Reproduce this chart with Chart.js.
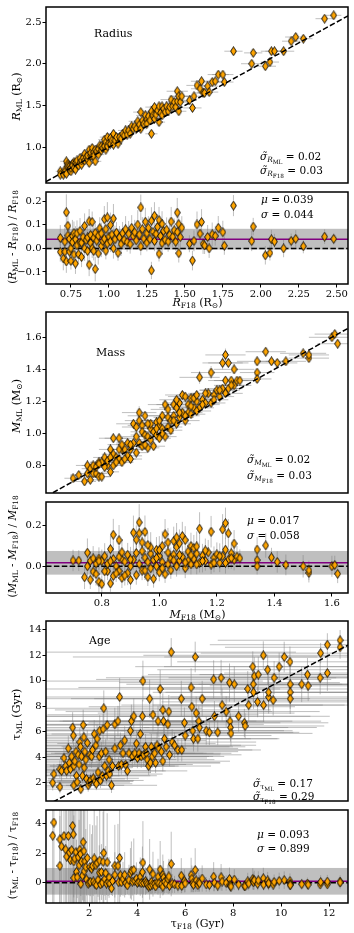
<!DOCTYPE html>
<html>
<head>
<meta charset="utf-8">
<script src="https://cdn.jsdelivr.net/npm/chart.js@4.4.1/dist/chart.umd.min.js"></script>
<style>
  html, body { margin: 0; padding: 0; background: #fff; }
  #wrap { position: relative; width: 354px; height: 933px; overflow: hidden; }
  canvas { position: absolute; left: 0; }
</style>
</head>
<body>
<div id="wrap">
  <canvas id="c1"></canvas>
  <canvas id="c2"></canvas>
  <canvas id="c3"></canvas>
  <canvas id="c4"></canvas>
  <canvas id="c5"></canvas>
  <canvas id="c6"></canvas>
</div>
<script>
// ---------------- Radius ----------------
const radiusF18 = [
  0.68, 0.68, 0.70, 0.71, 0.71, 0.72, 0.72, 0.73, 0.73, 0.74,
  0.74, 0.75, 0.75, 0.76, 0.76, 0.77, 0.77, 0.78, 0.78, 0.79,
  0.79, 0.80, 0.81, 0.81, 0.82, 0.82, 0.83, 0.84, 0.84, 0.85,
  0.86, 0.86, 0.87, 0.87, 0.88, 0.88, 0.89, 0.89, 0.90, 0.90,
  0.91, 0.91, 0.92, 0.93, 0.93, 0.94, 0.95, 0.95, 0.96, 0.97,
  0.97, 0.98, 0.98, 0.99, 0.99, 1.00, 1.01, 1.01, 1.02, 1.03,
  1.03, 1.04, 1.05, 1.06, 1.07, 1.08, 1.09, 1.10, 1.11, 1.12,
  1.13, 1.14, 1.15, 1.16, 1.17, 1.18, 1.19, 1.20, 1.21, 1.21,
  1.22, 1.23, 1.24, 1.25, 1.25, 1.26, 1.27, 1.28, 1.28, 1.29,
  1.30, 1.30, 1.31, 1.32, 1.33, 1.33, 1.34, 1.35, 1.35, 1.36,
  1.37, 1.38, 1.39, 1.40, 1.41, 1.42, 1.43, 1.44, 1.45, 1.45,
  1.46, 1.46, 1.47, 1.48, 1.53, 1.55, 1.56, 1.58, 1.60, 1.61,
  1.62, 1.63, 1.65, 1.66, 1.68, 1.70, 1.72, 1.75, 1.76, 1.82,
  1.94, 1.95, 2.03, 2.06, 2.07, 2.09, 2.15, 2.20, 2.23, 2.28,
  2.42, 2.48
];
const radiusML = [
  0.71, 0.67, 0.67, 0.73, 0.70, 0.68, 0.83, 0.80, 0.77, 0.77,
  0.73, 0.71, 0.75, 0.80, 0.78, 0.82, 0.75, 0.81, 0.73, 0.80,
  0.84, 0.78, 0.83, 0.87, 0.79, 0.84, 0.87, 0.84, 0.92, 0.88,
  0.85, 0.90, 0.97, 0.81, 0.90, 0.93, 0.99, 0.89, 0.94, 0.89,
  0.83, 0.97, 0.95, 0.98, 0.91, 1.02, 0.96, 1.01, 0.99, 1.09,
  1.01, 1.06, 0.97, 1.12, 1.01, 1.05, 1.11, 1.04, 1.08, 1.16,
  1.03, 1.08, 1.12, 1.04, 1.12, 1.10, 1.16, 1.14, 1.20, 1.15,
  1.20, 1.16, 1.25, 1.22, 1.25, 1.22, 1.31, 1.27, 1.42, 1.22,
  1.32, 1.28, 1.38, 1.33, 1.28, 1.37, 1.32, 1.43, 1.16, 1.38,
  1.48, 1.34, 1.39, 1.44, 1.30, 1.49, 1.41, 1.49, 1.38, 1.46,
  1.42, 1.49, 1.43, 1.48, 1.57, 1.49, 1.54, 1.48, 1.67, 1.55,
  1.61, 1.43, 1.54, 1.61, 1.56, 1.47, 1.61, 1.74, 1.70, 1.79,
  1.65, 1.65, 1.73, 1.66, 1.78, 1.79, 1.87, 1.87, 1.78, 2.15,
  2.00, 2.13, 1.97, 2.02, 2.15, 2.15, 2.15, 2.27, 2.32, 2.30,
  2.54, 2.58
];
const radiusF18Err = [
  .03, .02, .03, .03, .02, .03, .04, .03, .02, .03,
  .03, .02, .03, .04, .03, .03, .02, .03, .03, .04,
  .03, .02, .04, .03, .03, .02, .03, .04, .03, .03,
  .04, .03, .03, .04, .03, .04, .03, .03, .04, .03,
  .04, .03, .04, .03, .04, .03, .04, .03, .04, .04,
  .03, .04, .03, .05, .04, .03, .04, .04, .03, .05,
  .04, .05, .04, .03, .04, .05, .04, .04, .05, .04,
  .05, .04, .05, .04, .05, .04, .06, .05, .05, .04,
  .05, .04, .06, .05, .04, .05, .05, .06, .04, .05,
  .06, .05, .05, .06, .04, .06, .05, .06, .05, .05,
  .05, .06, .05, .06, .07, .05, .06, .05, .07, .06,
  .06, .05, .06, .06, .05, .06, .06, .07, .06, .07,
  .06, .05, .07, .06, .07, .06, .07, .07, .06, .06,
  .07, .06, .07, .06, .07, .06, .07, .06, .07, .06,
  .06, .05
];
const radiusMLErr = [
  .02, .02, .02, .03, .02, .02, .03, .02, .02, .02,
  .02, .02, .02, .03, .02, .02, .02, .03, .02, .02,
  .03, .02, .02, .03, .02, .02, .03, .02, .03, .02,
  .02, .03, .03, .02, .02, .03, .02, .02, .03, .02,
  .03, .02, .02, .03, .02, .03, .02, .03, .02, .03,
  .02, .03, .02, .03, .02, .02, .03, .02, .03, .03,
  .02, .03, .02, .02, .03, .02, .03, .02, .03, .02,
  .03, .02, .03, .02, .03, .02, .03, .03, .03, .02,
  .03, .02, .03, .03, .02, .03, .02, .03, .03, .03,
  .03, .02, .03, .03, .02, .03, .03, .03, .02, .03,
  .02, .03, .03, .03, .04, .03, .03, .02, .04, .03,
  .03, .03, .03, .03, .02, .03, .03, .04, .03, .04,
  .03, .03, .04, .03, .04, .03, .04, .04, .03, .04,
  .04, .03, .04, .03, .04, .03, .04, .03, .04, .03,
  .04, .03
];
const radiusXRange = [0.586, 2.574];
const radiusYRange = [0.57, 2.68];
const radiusResRange = [-0.151, 0.239];
const radiusXTicks = [0.75, 1.0, 1.25, 1.5, 1.75, 2.0, 2.25, 2.5];
const radiusYTicks = [1.0, 1.5, 2.0, 2.5];
const radiusResTicks = [-0.1, 0.0, 0.1, 0.2];
const radiusStats = [0.039, 0.044];
const radiusScatter = [0.02, 0.03];

// ---------------- Mass ----------------
const massF18 = [
  0.70, 0.72, 0.74, 0.75, 0.75, 0.76, 0.76, 0.77, 0.77, 0.78,
  0.78, 0.79, 0.79, 0.80, 0.80, 0.81, 0.82, 0.82, 0.83, 0.83,
  0.84, 0.84, 0.84, 0.85, 0.86, 0.86, 0.87, 0.87, 0.88, 0.89,
  0.89, 0.90, 0.90, 0.91, 0.91, 0.92, 0.92, 0.93, 0.93, 0.93,
  0.94, 0.94, 0.94, 0.95, 0.95, 0.96, 0.96, 0.97, 0.97, 0.98,
  0.98, 0.99, 0.99, 1.00, 1.00, 1.01, 1.01, 1.02, 1.02, 1.03,
  1.03, 1.04, 1.04, 1.05, 1.05, 1.06, 1.06, 1.07, 1.07, 1.08,
  1.08, 1.09, 1.09, 1.10, 1.10, 1.11, 1.11, 1.12, 1.13, 1.14,
  1.14, 1.15, 1.16, 1.17, 1.18, 1.18, 1.19, 1.20, 1.21, 1.22,
  1.22, 1.23, 1.23, 1.24, 1.24, 1.25, 1.26, 1.26, 1.27, 1.28,
  1.34, 1.34, 1.34, 1.37, 1.39, 1.41, 1.44, 1.50, 1.52, 1.52,
  1.60, 1.61, 1.62,
  0.86, 0.88, 0.90, 0.92, 0.95, 0.97, 0.99, 1.01, 1.03, 1.05,
  1.07, 1.09, 1.11, 1.12, 1.13, 1.15, 1.16, 1.19, 1.21, 1.23,
  0.79, 0.81, 0.83, 0.85, 0.87, 0.96, 1.00, 1.06, 1.13, 1.25
];
const massML = [
  0.72, 0.74, 0.70, 0.75, 0.80, 0.71, 0.78, 0.80, 0.75, 0.75,
  0.79, 0.73, 0.82, 0.82, 0.73, 0.85, 0.80, 0.83, 0.90, 0.76,
  0.87, 0.80, 0.97, 0.85, 0.97, 0.84, 0.90, 0.82, 0.90, 0.86,
  0.94, 0.90, 0.84, 1.06, 0.94, 1.04, 0.88, 1.13, 1.08, 0.94,
  1.05, 1.01, 0.92, 1.11, 0.99, 0.91, 0.98, 1.03, 0.96, 1.01,
  0.92, 1.07, 0.99, 1.05, 0.97, 1.11, 1.03, 1.18, 0.98, 1.10,
  1.04, 1.08, 1.02, 1.18, 1.11, 1.16, 1.06, 1.10, 1.19, 1.24,
  1.13, 1.23, 1.08, 1.18, 1.13, 1.22, 1.12, 1.16, 1.20, 1.35,
  1.16, 1.21, 1.19, 1.25, 1.38, 1.19, 1.24, 1.27, 1.23, 1.44,
  1.28, 1.49, 1.33, 1.44, 1.28, 1.33, 1.40, 1.30, 1.33, 1.33,
  1.45, 1.38, 1.34, 1.51, 1.45, 1.44, 1.45, 1.50, 1.47, 1.49,
  1.60, 1.62, 1.56,
  0.90, 0.84, 0.93, 0.98, 0.93, 1.06, 1.03, 1.00, 1.15, 1.08,
  1.13, 1.11, 1.17, 1.22, 1.14, 1.18, 1.25, 1.21, 1.27, 1.25,
  0.81, 0.79, 0.85, 0.82, 0.93, 1.06, 1.08, 1.21, 1.24, 1.30
];
const massF18Err = [
  .03, .03, .04, .03, .04, .03, .03, .04, .03, .04,
  .03, .04, .03, .04, .03, .04, .03, .04, .04, .03,
  .04, .03, .05, .04, .05, .03, .04, .04, .04, .05,
  .04, .05, .04, .06, .04, .05, .04, .06, .05, .04,
  .05, .04, .04, .06, .05, .04, .05, .05, .04, .05,
  .04, .05, .05, .05, .04, .06, .05, .06, .04, .05,
  .05, .05, .04, .06, .05, .06, .05, .05, .06, .06,
  .05, .06, .05, .06, .05, .06, .05, .05, .06, .07,
  .05, .06, .05, .06, .07, .05, .06, .06, .05, .07,
  .06, .07, .06, .07, .05, .06, .07, .06, .06, .05,
  .07, .06, .05, .07, .06, .07, .07, .08, .07, .07,
  .08, .07, .07,
  .04, .04, .05, .05, .04, .06, .05, .04, .06, .05,
  .06, .05, .06, .06, .05, .06, .06, .05, .07, .06,
  .03, .04, .04, .03, .05, .05, .06, .06, .07, .06
];
const massMLErr = [
  .02, .02, .02, .02, .03, .02, .02, .02, .02, .02,
  .02, .02, .03, .02, .02, .03, .02, .02, .03, .02,
  .02, .02, .03, .02, .03, .02, .02, .02, .02, .02,
  .03, .02, .02, .03, .02, .03, .02, .04, .03, .02,
  .03, .02, .02, .03, .02, .02, .02, .03, .02, .02,
  .02, .03, .02, .02, .02, .03, .02, .03, .02, .03,
  .02, .02, .02, .03, .02, .03, .02, .02, .03, .03,
  .02, .03, .02, .03, .02, .03, .02, .02, .02, .04,
  .02, .02, .02, .03, .04, .02, .02, .03, .02, .04,
  .02, .04, .03, .03, .02, .02, .03, .02, .02, .02,
  .03, .02, .02, .03, .02, .02, .02, .02, .02, .02,
  .02, .02, .03,
  .02, .02, .02, .02, .02, .03, .02, .02, .03, .02,
  .02, .02, .02, .03, .02, .02, .02, .02, .02, .02,
  .02, .02, .02, .02, .02, .03, .02, .03, .03, .02
];
const massXRange = [0.606, 1.656];
const massYRange = [0.628, 1.758];
const massResRange = [-0.131, 0.315];
const massXTicks = [0.8, 1.0, 1.2, 1.4, 1.6];
const massYTicks = [0.8, 1.0, 1.2, 1.4, 1.6];
const massResTicks = [0.0, 0.2];
const massStats = [0.017, 0.058];
const massScatter = [0.02, 0.03];

// ---------------- Age ----------------
const ageF18 = [
  0.48, 0.53, 0.78, 0.78, 0.85, 0.95, 1.02, 1.06, 1.13, 1.17,
  1.22, 1.27, 1.31, 1.34, 1.36, 1.36, 1.40, 1.45, 1.47, 1.50,
  1.54, 1.58, 1.61, 1.64, 1.65, 1.68, 1.72, 1.75, 1.78, 1.79,
  1.82, 1.86, 1.89, 1.92, 1.96, 2.00, 2.03, 2.06, 2.10, 2.14,
  2.17, 2.21, 2.24, 2.28, 2.30, 2.33, 2.37, 2.42, 2.44, 2.47,
  2.51, 2.55, 2.58, 2.61, 2.65, 2.69, 2.72, 2.75, 2.79, 2.83,
  2.86, 2.93, 2.97, 3.07, 3.07, 3.20, 3.23, 3.27, 3.30, 3.34,
  3.41, 3.48, 3.52, 3.59, 3.66, 3.72, 3.76, 3.80, 3.86, 3.90,
  3.97, 4.01, 4.08, 4.13, 4.17, 4.22, 4.24, 4.27, 4.35, 4.38,
  4.42, 4.48, 4.52, 4.55, 4.59, 4.63, 4.66, 4.73, 4.77, 4.83,
  4.87, 4.91, 4.96, 5.01, 5.07, 5.07, 5.10, 5.14, 5.21, 5.28,
  5.32, 5.35, 5.42, 5.46, 5.56, 5.70, 5.84, 5.86, 5.97, 6.00,
  6.25, 6.28, 6.32, 6.35, 6.42, 6.46, 6.53, 6.57, 6.60, 6.71,
  6.88, 7.01, 7.19, 7.22, 7.36, 7.50, 7.54, 7.71, 7.85, 7.87,
  7.89, 7.91, 8.05, 8.23, 8.47, 8.50, 8.61, 8.65, 8.82, 8.84,
  8.85, 8.88, 9.02, 9.05, 9.26, 9.27, 9.44, 9.48, 9.48, 9.67,
  9.71, 9.92, 10.13, 10.37, 10.38, 10.38, 10.38, 10.86, 11.10, 11.13,
  11.63, 11.65, 11.93, 11.93, 12.46, 12.46
];
const ageML = [
  2.00, 2.68, 3.06, 1.67, 2.93, 3.94, 3.31, 2.93, 4.69, 3.56,
  3.06, 4.06, 6.33, 5.70, 3.31, 1.80, 3.69, 4.44, 2.55, 2.05,
  4.19, 3.43, 5.19, 4.82, 1.50, 4.06, 2.55, 6.53, 5.57, 3.18,
  4.44, 3.81, 2.30, 5.12, 1.80, 2.05, 4.19, 2.18, 4.06, 4.57,
  2.35, 5.82, 2.10, 4.94, 1.92, 5.45, 2.81, 4.06, 6.08, 2.18,
  4.31, 2.55, 6.20, 7.84, 3.31, 4.44, 2.55, 6.53, 2.93, 3.81,
  2.68, 1.80, 3.31, 4.69, 6.58, 6.83, 3.31, 8.72, 4.94, 3.43,
  4.31, 5.32, 3.43, 2.93, 4.31, 6.08, 6.83, 4.06, 7.21, 4.31,
  5.07, 3.94, 4.31, 5.82, 4.06, 7.21, 9.97, 4.19, 4.82, 4.31,
  3.81, 3.31, 8.59, 3.56, 4.82, 4.06, 7.33, 4.31, 3.56, 4.94,
  6.83, 4.69, 9.35, 4.44, 7.71, 3.69, 6.83, 5.45, 4.82, 6.58,
  7.58, 4.19, 12.24, 5.19, 4.94, 4.57, 8.59, 4.57, 6.70, 5.70,
  9.47, 7.96, 6.08, 5.45, 11.86, 7.46, 5.45, 6.83, 6.33, 8.59,
  6.08, 5.95, 10.10, 7.21, 5.95, 10.23, 8.09, 7.58, 9.85, 6.83,
  6.33, 5.87, 9.72, 7.21, 6.70, 6.45, 9.35, 8.09, 11.10, 9.72,
  9.09, 10.35, 8.34, 10.48, 11.99, 8.09, 10.86, 8.72, 9.09, 8.47,
  10.23, 11.10, 11.86, 11.48, 9.72, 9.09, 8.59, 9.72, 10.48, 9.60,
  10.23, 12.16, 10.60, 12.82, 13.17, 12.62
];
const ageF18Err = [
  1.5, 2.0, 1.8, 1.2, 2.2, 1.6, 2.4, 1.4, 2.8, 1.9,
  2.1, 2.5, 3.2, 2.9, 1.7, 1.3, 2.3, 2.6, 1.8, 1.5,
  2.7, 2.2, 3.0, 2.6, 1.4, 2.4, 1.9, 3.4, 3.1, 2.0,
  2.6, 2.3, 1.6, 2.9, 1.5, 1.7, 2.8, 1.8, 2.5, 2.7,
  1.9, 3.3, 1.6, 2.8, 1.5, 3.1, 2.2, 2.6, 3.5, 1.8,
  2.7, 2.0, 3.6, 4.1, 2.3, 2.9, 2.1, 3.8, 2.4, 2.8,
  2.2, 1.9, 2.6, 3.0, 3.9, 4.2, 2.5, 4.6, 3.1, 2.7,
  3.0, 3.4, 2.8, 2.5, 3.1, 3.8, 4.0, 3.2, 4.3, 3.0,
  3.3, 2.9, 3.1, 3.7, 3.0, 4.2, 5.0, 3.2, 3.5, 3.1,
  2.8, 2.6, 4.8, 2.9, 3.4, 3.0, 4.4, 3.2, 2.7, 3.5,
  4.1, 3.3, 5.0, 3.2, 4.5, 2.8, 4.2, 3.6, 3.3, 4.0,
  4.3, 3.0, 5.2, 3.5, 3.4, 3.1, 4.6, 3.3, 4.0, 3.6,
  4.7, 4.3, 3.8, 3.5, 5.1, 4.1, 3.4, 3.9, 3.7, 4.5,
  3.6, 3.5, 4.9, 4.0, 3.4, 4.8, 4.2, 3.9, 4.6, 3.8,
  3.6, 3.4, 4.5, 3.8, 3.5, 3.3, 4.4, 4.0, 4.9, 4.5,
  4.2, 4.7, 4.0, 4.6, 5.0, 3.9, 4.6, 4.1, 4.3, 3.8,
  4.4, 4.8, 5.0, 4.7, 4.2, 4.0, 3.8, 4.3, 4.5, 4.1,
  4.4, 5.0, 4.3, 4.9, 5.1, 4.8
];
const ageMLErr = [
  0.6, 0.8, 0.7, 0.5, 0.8, 0.9, 0.7, 0.6, 1.0, 0.8,
  0.7, 0.9, 1.2, 1.1, 0.8, 0.5, 0.9, 1.0, 0.6, 0.5,
  0.9, 0.8, 1.1, 1.0, 0.4, 0.9, 0.6, 1.2, 1.1, 0.7,
  1.0, 0.8, 0.6, 1.0, 0.5, 0.5, 0.9, 0.6, 0.9, 1.0,
  0.6, 1.1, 0.5, 1.0, 0.5, 1.1, 0.7, 0.9, 1.2, 0.6,
  0.9, 0.7, 1.2, 1.4, 0.8, 1.0, 0.7, 1.2, 0.8, 0.9,
  0.7, 0.6, 0.8, 1.0, 1.3, 1.2, 0.8, 1.5, 1.0, 0.8,
  0.9, 1.1, 0.8, 0.7, 0.9, 1.2, 1.3, 0.9, 1.4, 0.9,
  1.0, 0.8, 0.9, 1.1, 0.9, 1.3, 1.6, 0.9, 1.0, 0.9,
  0.8, 0.7, 1.5, 0.8, 1.0, 0.9, 1.3, 0.9, 0.8, 1.0,
  1.2, 1.0, 1.5, 0.9, 1.3, 0.8, 1.2, 1.1, 1.0, 1.2,
  1.3, 0.9, 1.1, 1.0, 1.0, 0.9, 1.4, 0.9, 1.2, 1.0,
  1.5, 1.3, 1.1, 1.0, 1.2, 1.3, 1.0, 1.2, 1.1, 1.4,
  1.1, 1.0, 1.5, 1.2, 1.0, 1.4, 1.3, 1.2, 1.5, 1.1,
  1.1, 1.0, 1.4, 1.2, 1.1, 1.0, 1.4, 1.3, 1.2, 1.4,
  1.3, 1.5, 1.2, 1.4, 1.1, 1.3, 1.2, 1.3, 1.4, 1.2,
  1.3, 1.1, 1.2, 1.2, 1.4, 1.3, 1.2, 1.4, 1.3, 1.2,
  1.3, 0.8, 1.4, 0.9, 0.8, 0.9
];
const ageXRange = [0.2, 12.79];
const ageYRange = [0.57, 14.68];
const ageResRange = [-1.37, 4.9];
const ageXTicks = [2, 4, 6, 8, 10, 12];
const ageYTicks = [2, 4, 6, 8, 10, 12, 14];
const ageResTicks = [0, 2, 4];
const ageStats = [0.093, 0.899];
const ageScatter = [0.17, 0.29];

// ---------------- helpers ----------------
const el = (id) => document.getElementById(id);
const FONT = '"DejaVu Serif", serif';
Chart.defaults.font.family = FONT;
Chart.defaults.color = '#000';

// thin diamond marker, like matplotlib 'd'
const diamond = document.createElement('canvas');
diamond.width = 7;
diamond.height = 10;
(() => {
  const c = diamond.getContext('2d');
  c.beginPath();
  c.moveTo(3.5, 0.6);
  c.lineTo(6.4, 5);
  c.lineTo(3.5, 9.4);
  c.lineTo(0.6, 5);
  c.closePath();
  c.fillStyle = '#ffa500';
  c.fill();
  c.lineWidth = 0.9;
  c.strokeStyle = '#000';
  c.stroke();
})();

const rm = (t) => ({ t });
const it = (t) => ({ t, it: true });
const sb = (t, i) => ({ t, lv: 1, it: i });
const ss = (t) => ({ t, lv: 2 });

function drawRich(ctx, parts, x, y, size, rot, center) {
  const font = (p) => `${p.it ? 'italic ' : ''}${size * [1, 0.7, 0.55][p.lv || 0]}px ${FONT}`;
  ctx.save();
  ctx.translate(x, y);
  if (rot) ctx.rotate(-Math.PI / 2);
  ctx.fillStyle = '#000';
  ctx.textAlign = 'left';
  ctx.textBaseline = 'alphabetic';
  let w = 0;
  parts.forEach((p) => { ctx.font = font(p); w += ctx.measureText(p.t).width; });
  let cx = center ? -w / 2 : 0;
  const dy = rot ? size * 0.35 : 0;
  parts.forEach((p) => {
    ctx.font = font(p);
    ctx.fillText(p.t, cx, dy + size * [0, 0.2, 0.36][p.lv || 0]);
    cx += ctx.measureText(p.t).width;
  });
  ctx.restore();
}

const decorPlugin = {
  id: 'decor',
  beforeDatasetsDraw(chart, args, opts) {
    const { ctx, chartArea: a, scales: { x, y } } = chart;
    ctx.save();
    ctx.beginPath();
    ctx.rect(a.left, a.top, a.width, a.height);
    ctx.clip();
    if (opts.band) {
      const [mu, sd] = opts.band;
      const t = y.getPixelForValue(mu + sd);
      const b = y.getPixelForValue(mu - sd);
      ctx.fillStyle = 'rgba(128,128,128,0.5)';
      ctx.fillRect(a.left, t, a.width, b - t);
    }
    ctx.strokeStyle = 'rgba(128,128,128,0.5)';
    ctx.lineWidth = 1;
    chart.data.datasets.forEach((ds) => {
      if (!ds.errorBars) return;
      ds.data.forEach((p) => {
        const px = x.getPixelForValue(p.x);
        const py = y.getPixelForValue(p.y);
        ctx.beginPath();
        if (p.xe) {
          ctx.moveTo(x.getPixelForValue(p.x - p.xe), py);
          ctx.lineTo(x.getPixelForValue(p.x + p.xe), py);
        }
        if (p.ye) {
          ctx.moveTo(px, y.getPixelForValue(p.y - p.ye));
          ctx.lineTo(px, y.getPixelForValue(p.y + p.ye));
        }
        ctx.stroke();
      });
    });
    if (opts.band) {
      const z = y.getPixelForValue(0);
      ctx.setLineDash([5.5, 2.4]);
      ctx.strokeStyle = '#000';
      ctx.lineWidth = 1.5;
      ctx.beginPath();
      ctx.moveTo(a.left, z);
      ctx.lineTo(a.right, z);
      ctx.stroke();
      ctx.setLineDash([]);
      const m = y.getPixelForValue(opts.band[0]);
      ctx.strokeStyle = '#800080';
      ctx.beginPath();
      ctx.moveTo(a.left, m);
      ctx.lineTo(a.right, m);
      ctx.stroke();
    }
    ctx.restore();
  },
  afterDraw(chart, args, opts) {
    const { ctx, chartArea: a } = chart;
    ctx.save();
    ctx.strokeStyle = '#000';
    ctx.lineWidth = 1.5;
    ctx.strokeRect(a.left, a.top, a.width, a.height);
    ctx.restore();
    (opts.texts || []).forEach((t) => drawRich(ctx, t.p, t.x, t.y - opts.top, t.s, t.rot, t.c));
  }
};

function axis(range, ticks, digits, display, size, isX) {
  return {
    type: 'linear',
    min: range[0],
    max: range[1],
    display,
    afterBuildTicks: (s) => { s.ticks = ticks.map((v) => ({ value: v })); },
    afterFit: (s) => { if (isX) s.height = size; else s.width = size; },
    grid: { drawOnChartArea: false, drawTicks: true, tickLength: 3.5, color: '#000', lineWidth: 1 },
    border: { display: false },
    ticks: {
      font: { size: 10 },
      color: '#000',
      padding: 1,
      maxRotation: 0,
      autoSkip: false,
      callback: (v) => (v < -1e-9 ? '\u2212' : '') + Math.abs(v).toFixed(digits)
    }
  };
}

function buildPoints(xs, ys, xe, ye) {
  return xs.map((x, i) => ({ x, y: ys[i], xe: xe[i], ye: ye[i] }));
}

function buildResiduals(xs, ys, xe, ye) {
  return xs.map((x, i) => {
    const y = ys[i];
    return { x, y: (y - x) / x, ye: (y / x) * Math.hypot(ye[i] / y, xe[i] / x) };
  });
}

const pointSet = (data) => ({ data, pointStyle: diamond, pointRadius: 5, errorBars: true, order: 1 });
const oneToOne = (r) => ({
  data: [{ x: r[0], y: r[0] }, { x: r[1], y: r[1] }],
  showLine: true, borderColor: '#000', borderWidth: 1.5, borderDash: [5.5, 2.4],
  pointRadius: 0, order: 0
});

function panel(id, top, height, padTop, scales, datasets, decor) {
  const cv = el(id);
  cv.width = 354;
  cv.height = height;
  cv.style.width = '354px';
  cv.style.height = height + 'px';
  cv.style.top = top + 'px';
  decor.top = top;
  return new Chart(cv, {
    type: 'scatter',
    data: { datasets },
    options: {
      responsive: false,
      animation: false,
      events: [],
      layout: { padding: { top: padTop, right: 5, left: 0, bottom: 0 } },
      plugins: { legend: { display: false }, tooltip: { enabled: false }, decor },
      scales
    },
    plugins: [decorPlugin]
  });
}

const statTexts = (stats, x, y1, y2) => [
  { p: [it('\u03bc'), rm(' = ' + stats[0].toFixed(3))], x, y: y1, s: 10.5 },
  { p: [it('\u03c3'), rm(' = ' + stats[1].toFixed(3))], x, y: y2, s: 10.5 }
];
const scatterTexts = (sym, symIt, vals, x, y1, y2) => [
  { p: [it('\u03c3\u0303'), sb(sym, symIt), ss('ML'), rm(' = ' + vals[0].toFixed(2))], x, y: y1, s: 10.5 },
  { p: [it('\u03c3\u0303'), sb(sym, symIt), ss('F18'), rm(' = ' + vals[1].toFixed(2))], x, y: y2, s: 10.5 }
];

// ---------------- Radius panels ----------------
panel('c1', 0, 190, 3, {
  x: axis(radiusXRange, radiusXTicks, 2, false, 0, true),
  y: axis(radiusYRange, radiusYTicks, 1, true, 46, false)
}, [pointSet(buildPoints(radiusF18, radiusML, radiusF18Err, radiusMLErr)), oneToOne(radiusXRange)], {
  texts: [
    { p: [rm('Radius')], x: 94, y: 37, s: 11 },
    { p: [it('R'), sb('ML'), rm(' (R'), sb('\u2299'), rm(')')], x: 16, y: 96.5, s: 11, rot: true, c: true },
    ...scatterTexts('R', true, radiusScatter, 260, 160, 174)
  ]
});
panel('c2', 185, 125, 5, {
  x: axis(radiusXRange, radiusXTicks, 2, true, 26, true),
  y: axis(radiusResRange, radiusResTicks, 1, true, 46, false)
}, [pointSet(buildResiduals(radiusF18, radiusML, radiusF18Err, radiusMLErr))], {
  band: radiusStats,
  texts: [
    { p: [rm('('), it('R'), sb('ML'), rm(' - '), it('R'), sb('F18'), rm(') / '), it('R'), sb('F18')], x: 12, y: 237, s: 10.5, rot: true, c: true },
    { p: [it('R'), sb('F18'), rm(' (R'), sb('\u2299'), rm(')')], x: 197.5, y: 306, s: 11, c: true },
    ...statTexts(radiusStats, 261, 203, 218)
  ]
});

// ---------------- Mass panels ----------------
panel('c3', 300, 200, 12, {
  x: axis(massXRange, massXTicks, 1, false, 0, true),
  y: axis(massYRange, massYTicks, 1, true, 46, false)
}, [pointSet(buildPoints(massF18, massML, massF18Err, massMLErr)), oneToOne(massXRange)], {
  texts: [
    { p: [rm('Mass')], x: 96, y: 356, s: 11 },
    { p: [it('M'), sb('ML'), rm(' (M'), sb('\u2299'), rm(')')], x: 16, y: 406, s: 11, rot: true, c: true },
    ...scatterTexts('M', true, massScatter, 247, 463, 479)
  ]
});
panel('c4', 495, 125, 5, {
  x: axis(massXRange, massXTicks, 1, true, 27, true),
  y: axis(massResRange, massResTicks, 1, true, 46, false)
}, [pointSet(buildResiduals(massF18, massML, massF18Err, massMLErr))], {
  band: massStats,
  texts: [
    { p: [rm('('), it('M'), sb('ML'), rm(' - '), it('M'), sb('F18'), rm(') / '), it('M'), sb('F18')], x: 12, y: 546.5, s: 10.5, rot: true, c: true },
    { p: [it('M'), sb('F18'), rm(' (M'), sb('\u2299'), rm(')')], x: 197.5, y: 618, s: 11, c: true },
    ...statTexts(massStats, 247, 524, 539)
  ]
});

// ---------------- Age panels ----------------
panel('c5', 610, 198, 11, {
  x: axis(ageXRange, ageXTicks, 0, false, 0, true),
  y: axis(ageYRange, ageYTicks, 0, true, 46, false)
}, [pointSet(buildPoints(ageF18, ageML, ageF18Err, ageMLErr)), oneToOne(ageXRange)], {
  texts: [
    { p: [rm('Age')], x: 89, y: 644, s: 11 },
    { p: [rm('\u03c4'), sb('ML'), rm(' (Gyr)')], x: 16, y: 714.5, s: 11, rot: true, c: true },
    ...scatterTexts('\u03c4', false, ageScatter, 253, 787, 800)
  ]
});
panel('c6', 803, 130, 5, {
  x: axis(ageXRange, ageXTicks, 0, true, 30, true),
  y: axis(ageResRange, ageResTicks, 0, true, 46, false)
}, [pointSet(buildResiduals(ageF18, ageML, ageF18Err, ageMLErr))], {
  band: ageStats,
  texts: [
    { p: [rm('('), rm('\u03c4'), sb('ML'), rm(' - '), rm('\u03c4'), sb('F18'), rm(') / '), rm('\u03c4'), sb('F18')], x: 12, y: 855.5, s: 10.5, rot: true, c: true },
    { p: [rm('\u03c4'), sb('F18'), rm(' (Gyr)')], x: 197.5, y: 927, s: 11, c: true },
    ...statTexts(ageStats, 257, 838, 852)
  ]
});
</script>
</body>
</html>
